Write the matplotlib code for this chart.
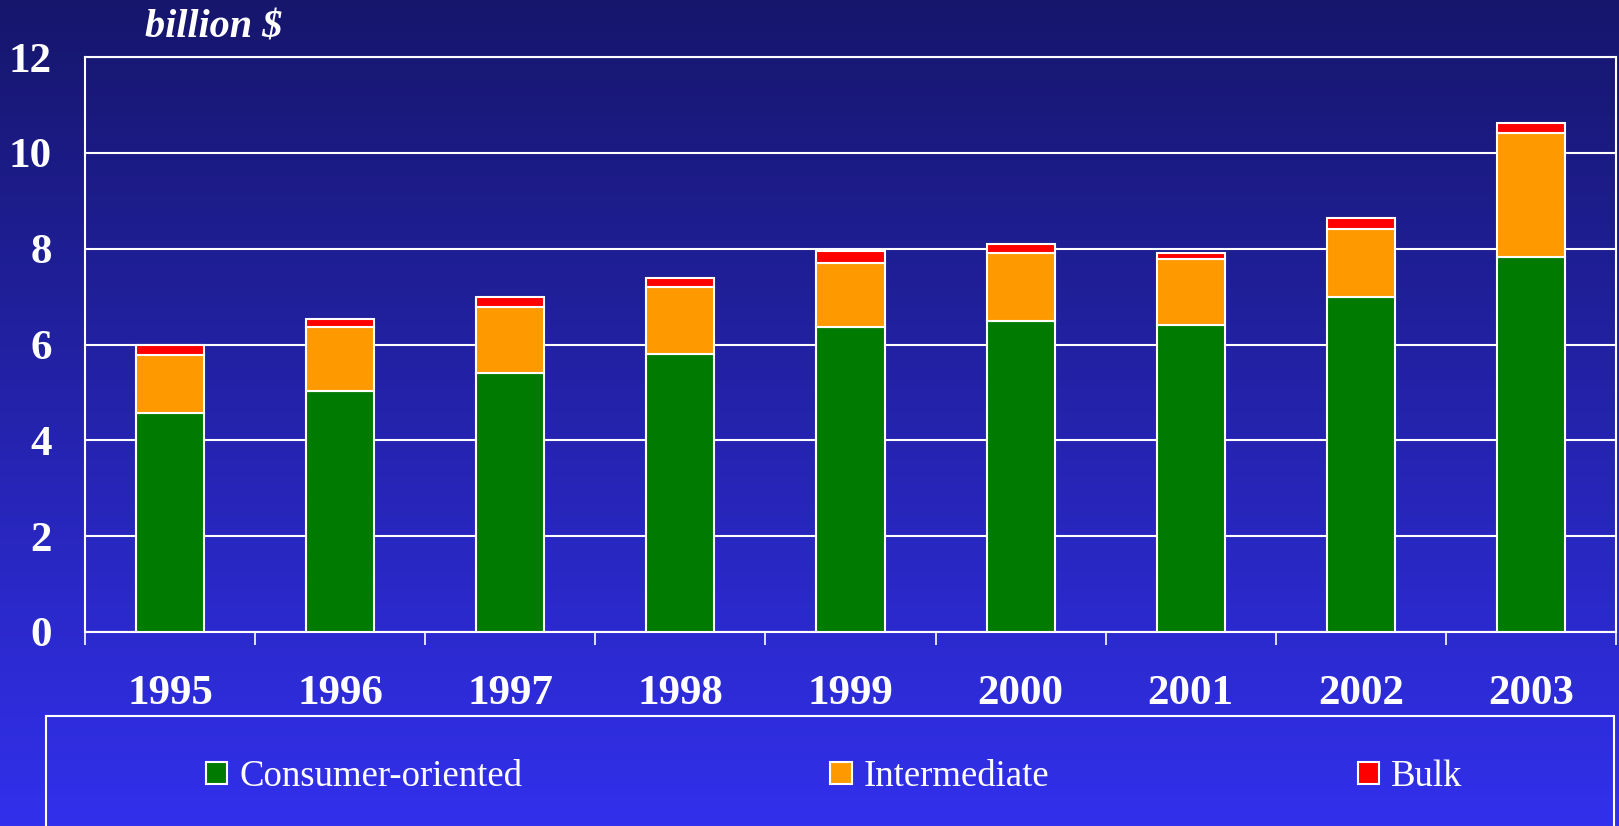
import numpy as np
import matplotlib.pyplot as plt
from matplotlib.patches import Rectangle

years = ['1995', '1996', '1997', '1998', '1999', '2000', '2001', '2002', '2003']
consumer = [4.58, 5.02, 5.41, 5.80, 6.37, 6.50, 6.41, 7.00, 7.83]
intermediate = [1.20, 1.34, 1.38, 1.41, 1.33, 1.42, 1.38, 1.42, 2.59]
bulk = [0.21, 0.18, 0.21, 0.17, 0.26, 0.17, 0.12, 0.21, 0.20]
yticks = [0, 2, 4, 6, 8, 10, 12]

green = '#007A00'
orange = '#FF9900'
red = '#FF0000'
serif = ['Liberation Serif', 'DejaVu Serif']

fig = plt.figure(figsize=(16.19, 8.26), dpi=100)

# gradient background
bg = fig.add_axes([0, 0, 1, 1], zorder=-10)
top = np.array([22, 22, 108]) / 255
bottom = np.array([50, 48, 236]) / 255
t = np.linspace(0, 1, 256)[:, None]
grad = (top * (1 - t) + bottom * t)[:, None, :]
bg.imshow(grad, aspect='auto', extent=[0, 1, 0, 1])
bg.axis('off')

ax = fig.add_axes([85 / 1619, 194 / 826, 1531 / 1619, 575 / 826])
ax.patch.set_alpha(0)

x = np.arange(len(years))
w = 0.4
base2 = np.array(consumer)
base3 = base2 + np.array(intermediate)
ax.bar(x, consumer, w, color=green, edgecolor='white', linewidth=1.5,
       label='Consumer-oriented', zorder=3)
ax.bar(x, intermediate, w, bottom=base2, color=orange, edgecolor='white',
       linewidth=1.5, label='Intermediate', zorder=3)
ax.bar(x, bulk, w, bottom=base3, color=red, edgecolor='white',
       linewidth=1.5, label='Bulk', zorder=3)

ax.set_xlim(-0.5, len(years) - 0.5)
ax.set_ylim(0, 12)
ax.set_yticks(yticks)
ax.set_yticklabels([str(v) for v in yticks])
ax.yaxis.grid(True, color='white', linewidth=1.5, zorder=1)
ax.set_axisbelow(True)

# ticks at category boundaries, labels in the middle
ax.set_xticks(np.arange(len(years) + 1) - 0.5)
ax.set_xticklabels([])
ax.set_xticks(x, minor=True)
ax.set_xticklabels(years, minor=True)
ax.tick_params(axis='x', which='major', length=9.5, width=1.2, color='white',
               direction='out')
ax.tick_params(axis='x', which='minor', length=0, pad=31, labelcolor='white')
ax.tick_params(axis='y', length=0, pad=24, labelcolor='white')
for lab in ax.get_xticklabels(minor=True) + ax.get_yticklabels():
    lab.set_family(serif)
    lab.set_fontweight('bold')
    lab.set_fontsize(31)

for sp in ax.spines.values():
    sp.set_color('white')
    sp.set_linewidth(1.5)

fig.text(145 / 1619, 1 - 37 / 826, 'billion $', color='white', family=serif,
         fontsize=29, fontweight='bold', fontstyle='italic', va='baseline')

# legend box
fig.patches.append(Rectangle((46 / 1619, -0.01), 1568 / 1619, (826 - 716) / 826 + 0.01,
                             transform=fig.transFigure, facecolor='none',
                             edgecolor='white', linewidth=1.5))
handles, labels = ax.get_legend_handles_labels()
leg = fig.legend(handles, labels, loc='lower left', ncol=3, mode='expand',
                 bbox_to_anchor=(206 / 1619, 1 - 794 / 826, 1256 / 1619, 36 / 826),
                 frameon=False, borderaxespad=0, borderpad=0,
                 handlelength=0.58, handleheight=0.58, handletextpad=0.32,
                 prop={'family': serif, 'size': 26.5})
for txt in leg.get_texts():
    txt.set_color('white')

fig.savefig('out.png', dpi=100)
